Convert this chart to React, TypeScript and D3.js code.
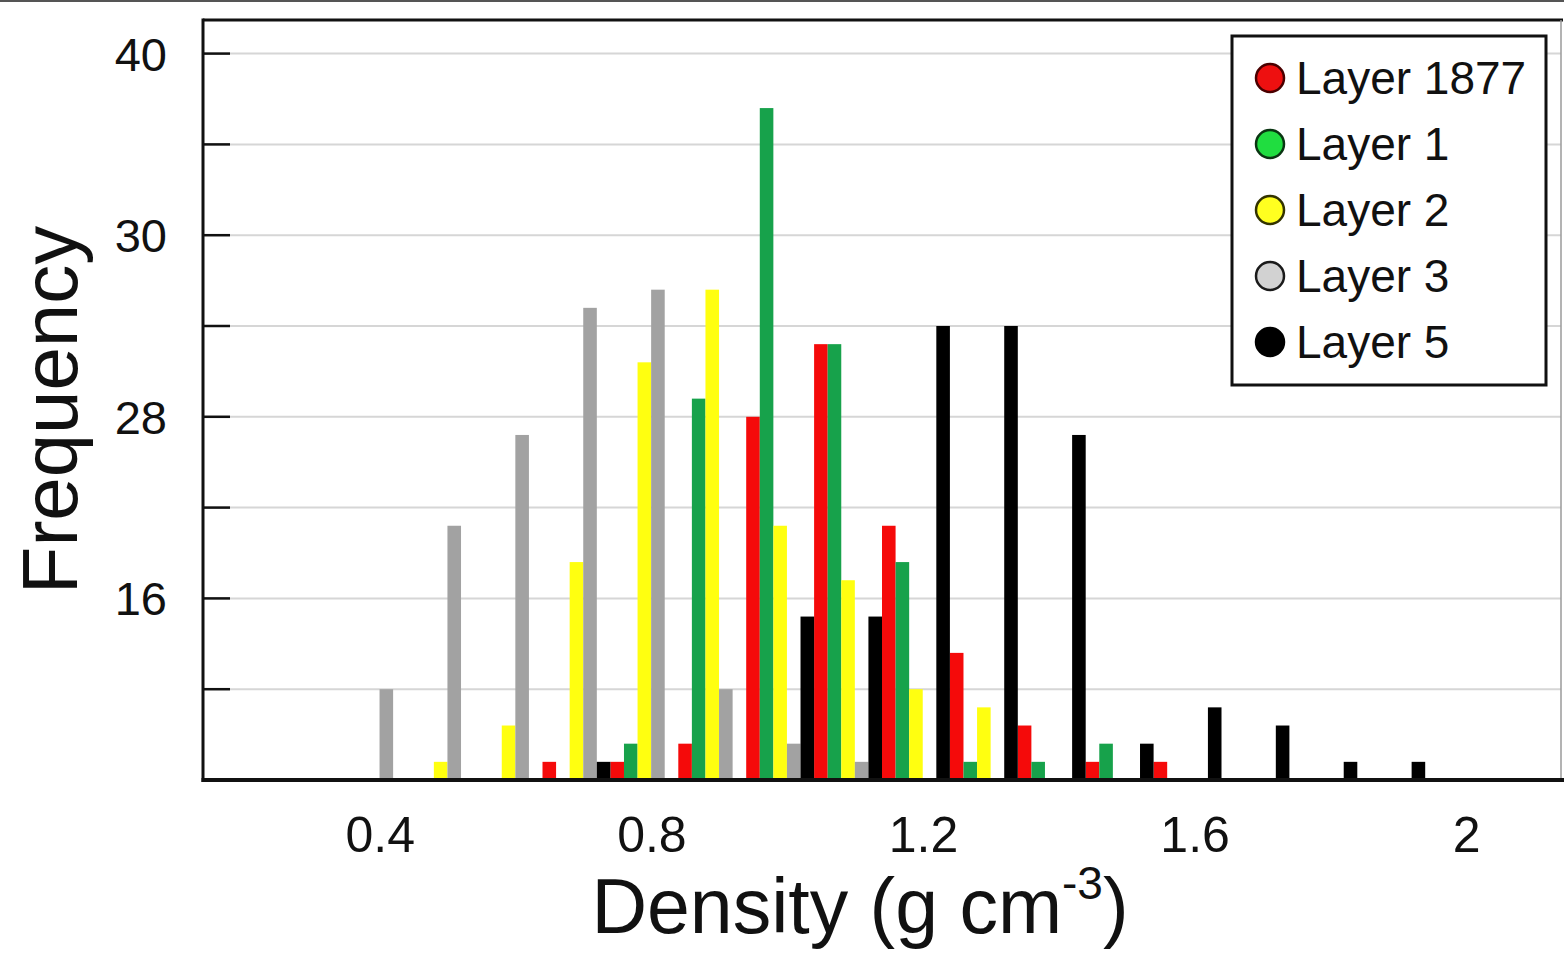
import React from "react";
import * as d3 from "d3";

// ---- data ----
const bins = [0.4, 0.5, 0.6, 0.7, 0.8, 0.9, 1.0, 1.1, 1.2, 1.3, 1.4, 1.5, 1.6, 1.7, 1.8, 1.9];
const seriesNames = ["Layer 1877", "Layer 1", "Layer 2", "Layer 3", "Layer 5"];
const layer1877 = [0, 0, 0, 1, 1, 2, 20, 24, 14, 7, 3, 1, 1, 0, 0, 0];
const layer1 = [0, 0, 0, 0, 2, 21, 37, 24, 12, 1, 1, 2, 0, 0, 0, 0];
const layer2 = [0, 1, 3, 12, 23, 27, 14, 11, 5, 4, 0, 0, 0, 0, 0, 0];
const layer3 = [5, 14, 19, 26, 27, 5, 2, 1, 0, 0, 0, 0, 0, 0, 0, 0];
const layer5 = [0, 0, 0, 1, 0, 0, 9, 9, 25, 25, 19, 2, 4, 3, 1, 1];
const seriesValues = [layer1877, layer1, layer2, layer3, layer5];
const barColors = ["#f50a0a", "#17a24b", "#ffff10", "#a2a2a2", "#000000"];
const legendFill = ["#ee1010", "#20dd40", "#ffff20", "#d2d2d2", "#000000"];
const legendStroke = ["#4a0000", "#0a3512", "#333300", "#1a1a1a", "#000000"];
const gridValues = [5, 10, 15, 20, 25, 30, 35, 40];
const yTickValues = [10, 20, 30, 40];
const yTickLabels = ["16", "28", "30", "40"];
const xTickValues = [0.4, 0.8, 1.2, 1.6, 2.0];
const xTickLabels = ["0.4", "0.8", "1.2", "1.6", "2"];

const W = 1564;
const H = 954;
const left = 203;
const right = 1561;
const top = 20;
const bottom = 780;
const barStep = 0.02;

export default function App() {
  const x = d3.scaleLinear().domain([0.13, 2.13]).range([left, right]);
  const y = d3.scaleLinear().domain([0, 41.85]).range([bottom, top]);
  const font = "'Liberation Sans', Arial, Helvetica, sans-serif";

  const bars: JSX.Element[] = [];
  seriesValues.forEach((vals, si) => {
    vals.forEach((v, bi) => {
      if (v <= 0) return;
      const b = bins[bi];
      const x0 = x(b + (si - 3.5) * barStep);
      const x1 = x(b + (si - 2.5) * barStep);
      bars.push(
        <rect
          key={`b-${si}-${bi}`}
          x={x0}
          y={y(v)}
          width={x1 - x0}
          height={y(0) - y(v)}
          fill={barColors[si]}
        />
      );
    });
  });

  return (
    <svg
      width={W}
      height={H}
      style={{ position: "absolute", left: 0, top: 0, background: "#fff" }}
      fontFamily={font}
    >
      <rect x={0} y={0} width={W} height={H} fill="#ffffff" />
      <line x1={0} x2={W} y1={1} y2={1} stroke="#555" strokeWidth={2} />

      {/* gridlines */}
      {gridValues.map((g) => (
        <line key={`g${g}`} x1={left} x2={right} y1={y(g)} y2={y(g)} stroke="#d6d6d6" strokeWidth={2} />
      ))}
      {/* tick marks (inside) */}
      {gridValues.map((g) => (
        <line key={`t${g}`} x1={left} x2={left + 27} y1={y(g)} y2={y(g)} stroke="#111" strokeWidth={2.5} />
      ))}

      {/* bars */}
      {bars}

      {/* frame */}
      <line x1={left} x2={right + 2} y1={top} y2={top} stroke="#111" strokeWidth={3} />
      <line x1={right} x2={right} y1={top} y2={bottom} stroke="#9a9a9a" strokeWidth={1.5} />
      <line x1={left} x2={left} y1={top - 1.5} y2={bottom + 2} stroke="#111" strokeWidth={3} />
      <line x1={left - 1.5} x2={W} y1={bottom} y2={bottom} stroke="#111" strokeWidth={4} />

      {/* y tick labels */}
      {yTickValues.map((t, i) => (
        <text key={`yl${t}`} x={167} y={y(t) + 17} textAnchor="end" fontSize={47} fill="#111">
          {yTickLabels[i]}
        </text>
      ))}

      {/* x tick labels */}
      {xTickValues.map((t, i) => (
        <text key={`xl${t}`} x={x(t) - 6} y={852} textAnchor="middle" fontSize={50} fill="#111">
          {xTickLabels[i]}
        </text>
      ))}

      {/* axis titles */}
      <text transform="translate(77,410) rotate(-90)" textAnchor="middle" fontSize={78} fill="#111">
        Frequency
      </text>
      <text x={860} y={933} textAnchor="middle" fontSize={77} fill="#111">
        <tspan>Density (g cm</tspan>
        <tspan fontSize={46} dy={-34}>-3</tspan>
        <tspan dy={34}>)</tspan>
      </text>

      {/* legend */}
      <rect x={1232} y={36} width={314} height={349} fill="#fff" stroke="#111" strokeWidth={3} />
      {seriesNames.map((n, i) => (
        <g key={`lg${i}`}>
          <circle cx={1270} cy={78 + i * 66} r={14} fill={legendFill[i]} stroke={legendStroke[i]} strokeWidth={2.5} />
          <text x={1296} y={78 + i * 66 + 16} fontSize={46} fill="#111">
            {n}
          </text>
        </g>
      ))}
    </svg>
  );
}
